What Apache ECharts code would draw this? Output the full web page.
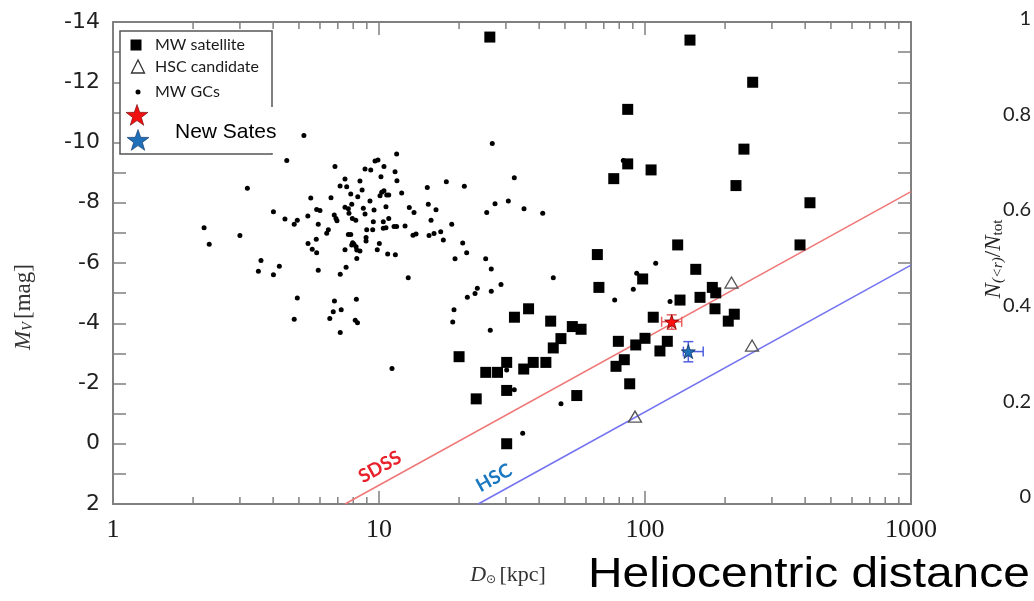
<!DOCTYPE html>
<html><head><meta charset="utf-8">
<script src="https://cdn.jsdelivr.net/npm/echarts@6/dist/echarts.min.js"></script>
<style>html,body{margin:0;padding:0;background:#fff}#c{width:1034px;height:601px}</style>
</head><body><div id="c"></div>
<script>
// ---- data (distance in kpc, absolute magnitude M_V) ----
const satD = [26.1,147.6,86.1,254,235.5,86.1,105.4,76.3,219.8,417,132.7,382.6,66.2,155.2,98.0,67.1,179.1,184.5,161,135.4,183.3,216.6,205.6,107.4,32.3,36.5,44.2,53.3,57.5,48.3,45.2,79.4,92.3,100,121.3,113.8,20.0,25.2,27.9,30.2,38.0,42.4,35.0,83.6,77.8,87.6,30.2,23.2,55.4,30.2];
const satM = [-13.5,-13.4,-11.1,-12.0,-9.78,-9.29,-9.09,-8.8,-8.57,-8.0,-6.6,-6.6,-6.28,-5.79,-5.47,-5.19,-5.19,-5.01,-4.86,-4.77,-4.48,-4.3,-4.07,-4.2,-4.2,-4.48,-4.07,-3.89,-3.8,-3.49,-3.18,-3.4,-3.28,-3.5,-3.4,-3.08,-2.89,-2.37,-2.37,-2.7,-2.7,-2.7,-2.48,-2.79,-2.57,-1.99,-1.77,-1.49,-1.6,0.0];

const gcD = [5.22,4.50,6.83,8.86,9.31,9.66,9.91,10.44,11.65,11.49,3.20,7.45,7.14,7.56,8.48,10.17,5.54,6.60,7.83,8.32,8.64,10.24,10.44,10.69,10.09,10.88,11.68,12.17,15.19,17.91,
2.20,2.30,3.00,4.01,4.43,4.80,4.93,5.40,5.83,6.00,5.91,6.36,6.45,6.79,6.89,6.95,7.45,7.67,7.71,7.90,7.94,8.18,8.73,8.86,9.25,9.58,10.62,9.52,10.38,10.88,
8.99,9.47,10.38,10.62,11.39,11.65,12.53,13.00,13.54,15.32,15.69,16.38,13.42,13.78,15.42,16.10,17.06,17.45,5.41,5.81,5.61,5.83,7.67,7.83,7.96,8.05,8.20,7.90,7.45,8.25,
8.48,8.94,8.94,10.03,9.85,10.78,11.52,3.60,3.52,4.01,4.22,5.91,7.52,7.15,8.25,12.88,4.93,6.80,7.21,6.73,6.53,8.22,4.80,8.14,8.30,7.15,11.19,
26.66,32.26,82.87,20.93,18.77,20.64,25.41,27.30,30.63,35.09,41.25,19.31,21.36,25.18,26.43,28.75,23.42,22.96,26.43,21.48,19.14,18.93,26.20,45.21,93.08,109.7,90.37,76.9,124.2,30.20,32.26,48.32,34.69];
const gcM = [-10.23,-9.40,-9.20,-9.12,-9.09,-9.39,-9.42,-9.20,-9.62,-9.03,-8.48,-8.79,-8.56,-8.53,-8.72,-8.86,-8.16,-8.17,-8.29,-8.20,-8.42,-8.35,-8.40,-8.26,-8.23,-8.26,-8.73,-8.32,-8.51,-8.70,
-7.17,-6.62,-6.91,-7.70,-7.46,-7.29,-7.42,-7.56,-7.78,-7.74,-7.29,-6.99,-7.10,-7.59,-7.48,-7.40,-7.85,-7.80,-7.65,-7.95,-7.48,-7.42,-7.82,-7.63,-8.06,-7.76,-7.87,-7.37,-7.37,-7.48,
-7.10,-7.10,-7.15,-7.17,-7.21,-7.21,-7.23,-7.84,-7.68,-7.95,-7.42,-7.77,-6.92,-6.96,-6.91,-6.98,-7.04,-6.76,-6.65,-6.79,-6.46,-6.34,-6.95,-6.95,-6.67,-6.62,-6.54,-6.60,-6.44,-6.43,
-6.40,-6.85,-6.73,-6.65,-6.44,-6.30,-6.27,-6.08,-5.73,-5.61,-5.89,-5.76,-5.86,-5.63,-6.15,-5.51,-4.84,-4.74,-4.45,-4.38,-4.16,-4.80,-4.13,-4.10,-4.02,-3.69,-2.50,
-9.97,-8.83,-9.40,-8.55,-7.29,-6.66,-7.68,-7.97,-8.06,-7.80,-7.65,-6.14,-6.34,-6.14,-5.80,-5.29,-5.16,-4.99,-5.06,-4.86,-4.45,-4.04,-3.77,-5.51,-5.66,-5.99,-5.13,-4.77,-4.72,-2.45,-1.79,-1.33,-0.35];

const hscD = [211.4,252.6,91.7];
const hscM = [-5.35,-3.26,-0.90];

const newD   = [126, 145.5];
const newM   = [-4.05, -3.06];
const newDlo = [115.5, 139.4];
const newDhi = [137.4, 165.5];
const newMlo = [-4.28, -3.39];
const newMhi = [-3.80, -2.72];
const newColors = ['#ff1010', '#1f70b8'];
const errColors = ['#e86060', '#5060e0'];

const sdssD = [7.45, 1000], sdssM = [2, -8.37];
const hscLineD = [23.6, 1000], hscLineM = [2, -5.93];

const xMinorTicks = [2,3,4,5,6,7,8,9,20,30,40,50,60,70,80,90,200,300,400,500,600,700,800,900];
const fracTicks = [0, 0.2, 0.4, 0.6, 0.8, 1];

// ---- chart ----
const chart = echarts.init(document.getElementById('c'), null, {renderer:'canvas'});
const frame = '#808080';
const zip = (a,b) => a.map((v,i)=>[v,b[i]]);
const starSym = 'path://M0,-10 L2.35,-3.24 L9.51,-3.09 L3.8,1.24 L5.88,8.09 L0,4 L-5.88,8.09 L-3.8,1.24 L-9.51,-3.09 L-2.35,-3.24 Z';
function starPts(cx, cy, R){
  const pts=[]; const r=R*0.4;
  for(let k=0;k<10;k++){const a=-Math.PI/2+k*Math.PI/5; const rr=k%2?r:R; pts.push([cx+rr*Math.cos(a), cy+rr*Math.sin(a)]);}
  return pts;
}
const axLine = {show:true, onZero:false, lineStyle:{color:frame, width:2}};
const axTick = {show:true, inside:true, length:13, lineStyle:{color:frame, width:1.5}};

const option = {
  animation:false,
  backgroundColor:'#fff',
  grid:[
    {left:113, right:123, top:22, bottom:97, outerBoundsMode:'none', containLabel:false},
    {left:1036, width:40, top:18.5, bottom:104, outerBoundsMode:'none', containLabel:false}
  ],
  xAxis:[
    {type:'log', logBase:10, min:1, max:1000, gridIndex:0, position:'bottom',
     axisLine:axLine, axisTick:axTick, splitLine:{show:false},
     axisLabel:{fontFamily:'Liberation Serif', fontSize:26, color:'#1a1a1a', margin:13,
       formatter:v=>String(Math.round(v))}},
    {type:'log', logBase:10, min:1, max:1000, gridIndex:0, position:'top',
     axisLine:axLine, axisTick:axTick, splitLine:{show:false}, axisLabel:{show:false}},
    {type:'value', gridIndex:1, min:0, max:1, show:false}
  ],
  yAxis:[
    {type:'value', inverse:true, min:-14, max:2, interval:1, gridIndex:0, position:'left',
     axisLine:axLine, axisTick:axTick, splitLine:{show:false},
     axisLabel:{fontFamily:'DejaVu Sans', fontSize:22, color:'#1f1f1f', margin:13,
       formatter:v=> (Math.round(v)%2===0 ? String(Math.round(v)) : '')}},
    {type:'value', inverse:true, min:-14, max:2, interval:1, gridIndex:0, position:'right',
     axisLine:axLine, axisTick:axTick, splitLine:{show:false}, axisLabel:{show:false}},
    {type:'value', gridIndex:1, min:0, max:1, interval:0.2, position:'left',
     axisLine:{show:false}, axisTick:{show:false}, splitLine:{show:false},
     axisLabel:{fontFamily:'Lato', fontSize:20, color:'#222', margin:5,
       formatter:v=>{const f=fracTicks.reduce((p,c)=>Math.abs(c-v)<Math.abs(p-v)?c:p); return (f===0||f===1)?String(f):f.toFixed(1);}}}
  ],
  series:[
    {type:'custom', xAxisIndex:0, yAxisIndex:0, silent:true, z:1,
     data: xMinorTicks.map(v=>[v,0]),
     renderItem:(params, api)=>{
       const x = api.coord([api.value(0), 0])[0];
       const cs = params.coordSys;
       const st = {stroke:frame, lineWidth:1.5};
       return {type:'group', children:[
         {type:'line', shape:{x1:x, y1:cs.y+cs.height, x2:x, y2:cs.y+cs.height-7}, style:st},
         {type:'line', shape:{x1:x, y1:cs.y, x2:x, y2:cs.y+7}, style:st}
       ]};
     }},
    {name:'SDSS', type:'line', xAxisIndex:0, yAxisIndex:0, data:zip(sdssD, sdssM), showSymbol:false, silent:true, z:2,
     lineStyle:{color:'#f07878', width:1.6}},
    {name:'HSC', type:'line', xAxisIndex:0, yAxisIndex:0, data:zip(hscLineD, hscLineM), showSymbol:false, silent:true, z:2,
     lineStyle:{color:'#7474f2', width:1.6}},
    {name:'MW GCs', type:'scatter', xAxisIndex:0, yAxisIndex:0, data:zip(gcD, gcM), symbol:'circle', symbolSize:5, z:3,
     itemStyle:{color:'#000', opacity:1}},
    {name:'MW satellite', type:'scatter', xAxisIndex:0, yAxisIndex:0, data:zip(satD, satM), symbol:'rect', symbolSize:11, z:4,
     itemStyle:{color:'#000', opacity:1}},
    {name:'HSC candidate', type:'scatter', xAxisIndex:0, yAxisIndex:0, data:zip(hscD, hscM), symbol:'triangle', symbolSize:[13,11], z:4,
     itemStyle:{color:'rgba(255,255,255,0)', borderColor:'#555', borderWidth:1.3, opacity:1}},
    {type:'custom', xAxisIndex:0, yAxisIndex:0, silent:true, z:5,
     data: zip(newD, newM),
     renderItem:(params, api)=>{
       const i = params.dataIndex;
       const l = api.coord([newDlo[i], newM[i]]), r = api.coord([newDhi[i], newM[i]]);
       const t = api.coord([newD[i], newMlo[i]]), b = api.coord([newD[i], newMhi[i]]);
       const cap = 5; const st = {stroke:errColors[i], lineWidth:1.5};
       return {type:'group', children:[
         {type:'line', shape:{x1:l[0], y1:l[1], x2:r[0], y2:r[1]}, style:st},
         {type:'line', shape:{x1:l[0], y1:l[1]-cap, x2:l[0], y2:l[1]+cap}, style:st},
         {type:'line', shape:{x1:r[0], y1:r[1]-cap, x2:r[0], y2:r[1]+cap}, style:st},
         {type:'line', shape:{x1:t[0], y1:t[1], x2:b[0], y2:b[1]}, style:st},
         {type:'line', shape:{x1:t[0]-cap, y1:t[1], x2:t[0]+cap, y2:t[1]}, style:st},
         {type:'line', shape:{x1:b[0]-cap, y1:b[1], x2:b[0]+cap, y2:b[1]}, style:st}
       ]};
     }},
    {name:'New Sates', type:'scatter', xAxisIndex:0, yAxisIndex:0, z:6,
     data: newD.map((d,i)=>({value:[d,newM[i]], itemStyle:{color:newColors[i], borderColor: i===0?'#700':'#0c2c60', borderWidth:0.8, opacity:1}})),
     symbol:starSym, symbolSize:14},
    {type:'scatter', xAxisIndex:2, yAxisIndex:2, data:[], silent:true}
  ],
  graphic:[
    // legend
    {type:'rect', shape:{x:120, y:31, width:152, height:123}, style:{fill:'#fff', stroke:'#555', lineWidth:1.5}, z:10},
    {type:'rect', shape:{x:130.5, y:39.5, width:11, height:11}, style:{fill:'#000'}, z:11},
    {type:'text', x:155, y:45, style:{text:'MW satellite', fontFamily:'Lato', fontSize:16, fill:'#1a1a1a', verticalAlign:'middle'}, z:11},
    {type:'polygon', shape:{points:[[138,60],[131.5,73],[144.5,73]]}, style:{fill:'none', stroke:'#333', lineWidth:1.3}, z:11},
    {type:'text', x:155, y:67, style:{text:'HSC candidate', fontFamily:'Lato', fontSize:16, fill:'#1a1a1a', verticalAlign:'middle'}, z:11},
    {type:'circle', shape:{cx:138, cy:92, r:2.5}, style:{fill:'#000'}, z:11},
    {type:'text', x:155, y:92, style:{text:'MW GCs', fontFamily:'Lato', fontSize:16, fill:'#1a1a1a', verticalAlign:'middle'}, z:11},
    {type:'polygon', shape:{points:starPts(137,116,11.5)}, style:{fill:'#f01010', stroke:'#600', lineWidth:0.6}, z:11},
    {type:'polygon', shape:{points:starPts(138,141,11.5)}, style:{fill:'#1f70b8', stroke:'#0c2c60', lineWidth:0.6}, z:11},
    {type:'rect', shape:{x:156, y:107, width:124, height:46}, style:{fill:'#fff'}, z:12},
    {type:'text', x:175, y:132, style:{text:'New Sates', fontFamily:'Liberation Sans', fontSize:21, fill:'#000', verticalAlign:'middle'}, z:13},
    // line labels
    {type:'text', x:380, y:467, rotation:0.505, style:{text:'SDSS', fontFamily:'Lato', fontWeight:'bold', fontSize:19, fill:'#e8202a', align:'center', verticalAlign:'middle'}, z:10},
    {type:'text', x:494, y:478, rotation:0.505, style:{text:'HSC', fontFamily:'Lato', fontWeight:'bold', fontSize:19, fill:'#1a78c0', align:'center', verticalAlign:'middle'}, z:10},
    // axis titles
    {type:'text', x:24, y:307, rotation:Math.PI/2, style:{
      text:'{i|M}{s|V} {n|[mag]}', align:'center', verticalAlign:'middle',
      rich:{i:{fontFamily:'Liberation Serif', fontStyle:'italic', fontSize:23, fill:'#333'},
            s:{fontFamily:'Liberation Serif', fontStyle:'italic', fontSize:14, fill:'#333', verticalAlign:'bottom'},
            n:{fontFamily:'Liberation Serif', fontSize:23, fill:'#333'}}}, z:10},
    {type:'text', x:508, y:575, style:{
      text:'{i|D}{s|⊙} {n|[kpc]}', align:'center', verticalAlign:'middle',
      rich:{i:{fontFamily:'Liberation Serif', fontStyle:'italic', fontSize:22, fill:'#333'},
            s:{fontFamily:'DejaVu Sans', fontSize:12, fill:'#333', verticalAlign:'bottom'},
            n:{fontFamily:'Liberation Serif', fontSize:22, fill:'#333'}}}, z:10},
    {type:'text', x:588, y:575, scaleX:1.14, style:{text:'Heliocentric distance', fontFamily:'Liberation Sans', fontSize:42, fill:'#000', verticalAlign:'middle'}, z:10},
    {type:'text', x:994, y:259, rotation:Math.PI/2, style:{
      text:'{i|N}{s|(<r)}{n|/}{i|N}{t|tot}', align:'center', verticalAlign:'middle',
      rich:{i:{fontFamily:'Liberation Serif', fontStyle:'italic', fontSize:23, fill:'#222'},
            s:{fontFamily:'Liberation Serif', fontStyle:'italic', fontSize:15, fill:'#222', verticalAlign:'bottom'},
            t:{fontFamily:'Liberation Serif', fontSize:15, fill:'#222', verticalAlign:'bottom'},
            n:{fontFamily:'Liberation Serif', fontSize:23, fill:'#222'}}}, z:10}
  ]
};
chart.setOption(option);
</script>
</body></html>
